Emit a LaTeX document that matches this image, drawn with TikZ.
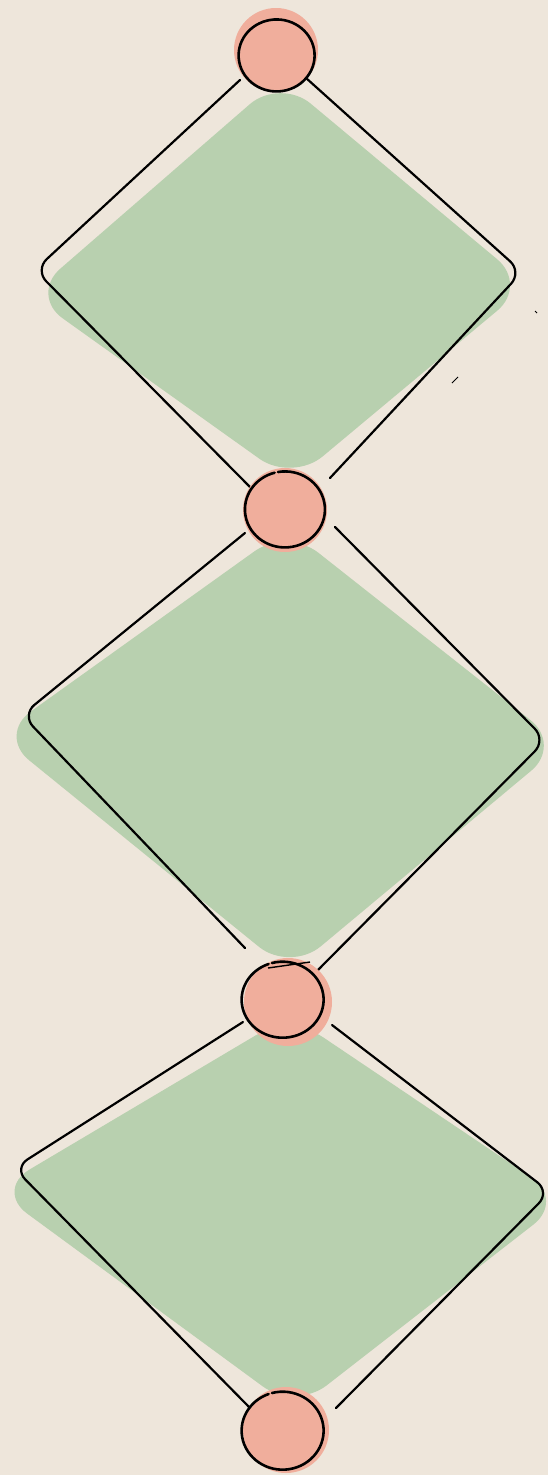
\documentclass[tikz,border=0pt]{standalone}
\definecolor{bg}{HTML}{EEE6DB}
\definecolor{leaf}{HTML}{B8D0AF}
\definecolor{rose}{HTML}{F0AE9C}
\tikzset{
  blob/.style={fill=leaf, rounded corners=40pt},
  edge/.style={draw=black, line width=2.2pt, rounded corners=16pt, line cap=round},
  knob/.style={circle, fill=rose, inner sep=0pt},
  ring/.style={draw=black, line width=2.6pt, line cap=round}
}
\begin{document}
\begin{tikzpicture}[x=1pt,y=-1pt]
\fill[bg] (0,0) rectangle (548,1475);
\useasboundingbox (0,0) rectangle (548,1475);
% diamond 1
\fill[blob] (280,78) -- (528,285) -- (292,482) -- (30,295) -- cycle;
\draw[edge] (240,80) -- (35,270) -- (250,487);
\draw[edge] (306,78) -- (522,272) -- (330,478);
\draw[line width=1pt] (452,383) -- (458,377);
\draw[line width=1pt] (535,311) -- (537,313);
% diamond 2
\fill[blob] (287,528) -- (562,745) -- (290,972) -- (-2,735) -- cycle;
\draw[edge] (245,533) -- (22,715) -- (245,948);
\draw[edge] (335,527) -- (546,740) -- (313,975);
% diamond 3
\fill[blob] (290,1015) -- (565,1200) -- (295,1410) -- (-5,1190) -- cycle;
\draw[edge] (243,1022) -- (14,1168) -- (252,1410);
\draw[edge] (332,1025) -- (550,1192) -- (336,1408);
% circles
\node[knob, minimum size=84pt] (k1) at (276,50) {};
\draw[ring] (270,20) arc (-100:260:38 and 36);
\node[knob, minimum size=84pt] (k2) at (285,510) {};
\draw[ring] (278,472) arc (-100:255:40 and 38);
\node[knob, minimum size=88pt] (k3) at (288,1002) {};
\draw[ring] (272,963) arc (-105:250:41 and 38);
\draw[line width=1.4pt] (268,968) -- (310,962);
\node[knob, minimum size=86pt] (k4) at (286,1430) {};
\draw[ring] (272,1393) arc (-105:250:41 and 39);
\end{tikzpicture}
\end{document}
